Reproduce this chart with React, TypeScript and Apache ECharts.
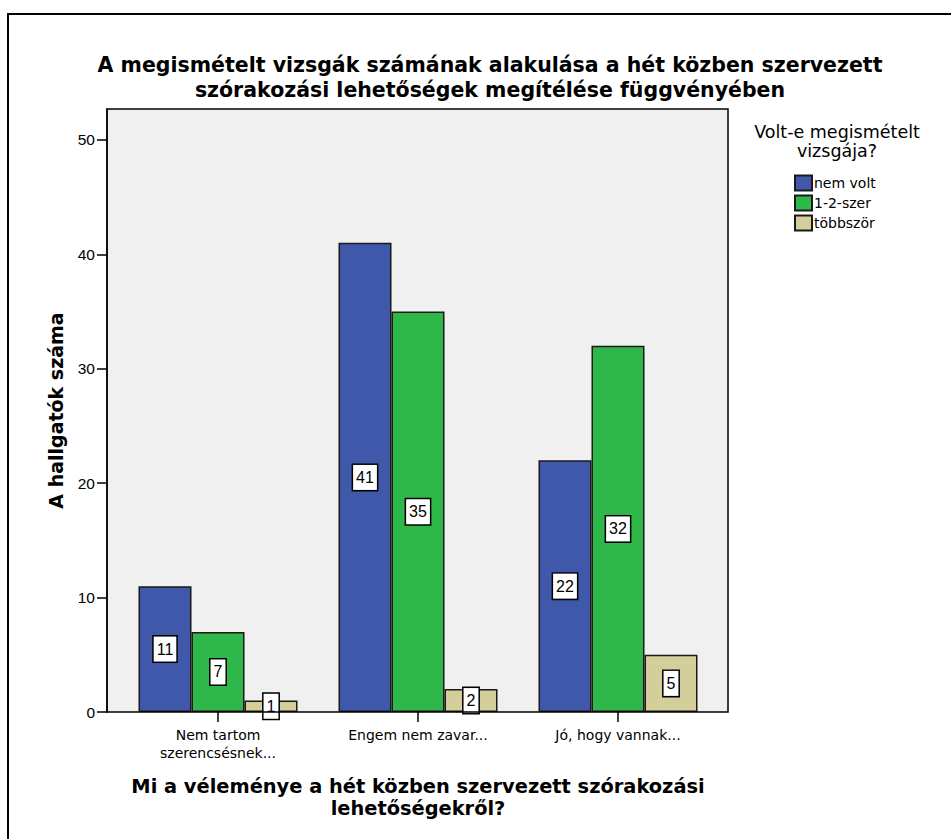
import React, { useEffect, useRef } from "react";
import * as echarts from "echarts";

const categories = ["Nem tartom\nszerencsésnek...", "Engem nem zavar...", "Jó, hogy vannak..."];
const seriesNames = ["nem volt", "1-2-szer", "többször"];
const nemVolt = [11, 41, 22];
const egyKetSzer = [7, 35, 32];
const tobbszor = [1, 2, 5];
const colors = ["#3f58a9", "#2fb84a", "#d4cf9a"];
const yTicks = { min: 0, max: 52.7, interval: 10 };

const FONT = "'Liberation Sans', Arial, sans-serif";
const WIDE = "'DejaVu Sans', 'Liberation Sans', sans-serif";

export default function App() {
  const ref = useRef<HTMLDivElement>(null);
  useEffect(() => {
    if (!ref.current) return;
    const chart = echarts.init(ref.current, null, { renderer: "svg" });
    const values = [nemVolt, egyKetSzer, tobbszor];
    const gridLeft = 118, gridRight = 233, gridTop = 109, gridBottom = 127;
    const W = 951, H = 839;
    const frameX = 107, frameW = 728 - 107;
    const frameY = gridTop, frameH = H - gridBottom - gridTop;
    chart.setOption({
      animation: false,
      textStyle: { fontFamily: FONT },
      title: {
        text: "A megismételt vizsgák számának alakulása a hét közben szervezett\nszórakozási lehetőségek megítélése függvényében",
        left: 490,
        top: 52,
        padding: 0,
        textAlign: "center",
        textStyle: { fontFamily: WIDE, fontSize: 20.5, fontWeight: "bold", color: "#000", lineHeight: 25 },
      },
      legend: {
        orient: "vertical",
        left: 794,
        top: 174.5,
        padding: 0,
        itemWidth: 17,
        itemHeight: 15,
        itemGap: 3,
        icon: "rect",
        data: seriesNames,
        textStyle: { fontFamily: WIDE, fontSize: 14, color: "#000", lineHeight: 15, padding: [0, 0, 0, -3] },
      },
      grid: { left: gridLeft, right: gridRight, top: gridTop, bottom: gridBottom },
      xAxis: {
        type: "category",
        data: categories,
        name: "Mi a véleménye a hét közben szervezett szórakozási\nlehetőségekről?",
        nameLocation: "middle",
        nameGap: 63,
        nameTextStyle: { fontFamily: WIDE, fontSize: 19.4, fontWeight: "bold", color: "#000", lineHeight: 22 },
        axisLine: { show: false },
        axisTick: { show: true, alignWithLabel: true, length: 10, lineStyle: { color: "#000", width: 1.5 } },
        axisLabel: { fontFamily: WIDE, fontSize: 14, color: "#000", lineHeight: 18, margin: 14 },
      },
      yAxis: {
        type: "value",
        min: yTicks.min,
        max: yTicks.max,
        interval: yTicks.interval,
        offset: 11,
        name: "A hallgatók száma",
        nameLocation: "middle",
        nameGap: 42,
        nameTextStyle: { fontFamily: WIDE, fontSize: 19, fontWeight: "bold", color: "#000" },
        splitLine: { show: false },
        axisLine: { show: true, lineStyle: { color: "#000", width: 1.5 } },
        axisTick: { show: true, length: 10, lineStyle: { color: "#000", width: 1.5 } },
        axisLabel: { fontFamily: FONT, fontSize: 15.5, color: "#000", margin: 12, showMaxLabel: false },
      },
      graphic: [
        {
          type: "rect",
          z: -10,
          silent: true,
          shape: { x: frameX, y: frameY, width: frameW, height: frameH },
          style: { fill: "#f0f0f0", stroke: "none" },
        },
        {
          type: "rect",
          z: 100,
          silent: true,
          shape: { x: frameX, y: frameY, width: frameW, height: frameH },
          style: { fill: "none", stroke: "#000", lineWidth: 1.5 },
        },
        {
          type: "rect",
          z: 100,
          silent: true,
          shape: { x: 8, y: 14, width: W + 10, height: H + 10 },
          style: { fill: "none", stroke: "#000", lineWidth: 2 },
        },
        {
          type: "text",
          z: 100,
          x: 837,
          y: 141,
          style: {
            text: "Volt-e megismételt\nvizsgája?",
            fontFamily: WIDE,
            fontSize: 17.5,
            lineHeight: 19,
            fill: "#000",
            align: "center",
            verticalAlign: "middle",
          },
        },
      ],
      series: seriesNames.map((name, i) => ({
        name,
        type: "bar",
        data: values[i],
        barWidth: 53,
        barGap: "0%",
        itemStyle: { color: colors[i], borderColor: "#1a1a1a", borderWidth: 1.5 },
        label: {
          show: true,
          position: "inside",
          fontFamily: FONT,
          fontSize: 16,
          color: "#000",
          backgroundColor: "#fff",
          borderColor: "#000",
          borderWidth: 1.5,
          padding: [5, 3, 4, 3],
        },
      })),
    });
    return () => chart.dispose();
  }, []);
  return (
    <div
      ref={ref}
      style={{ position: "absolute", left: 0, top: 0, width: 951, height: 839, background: "#fff" }}
    />
  );
}
